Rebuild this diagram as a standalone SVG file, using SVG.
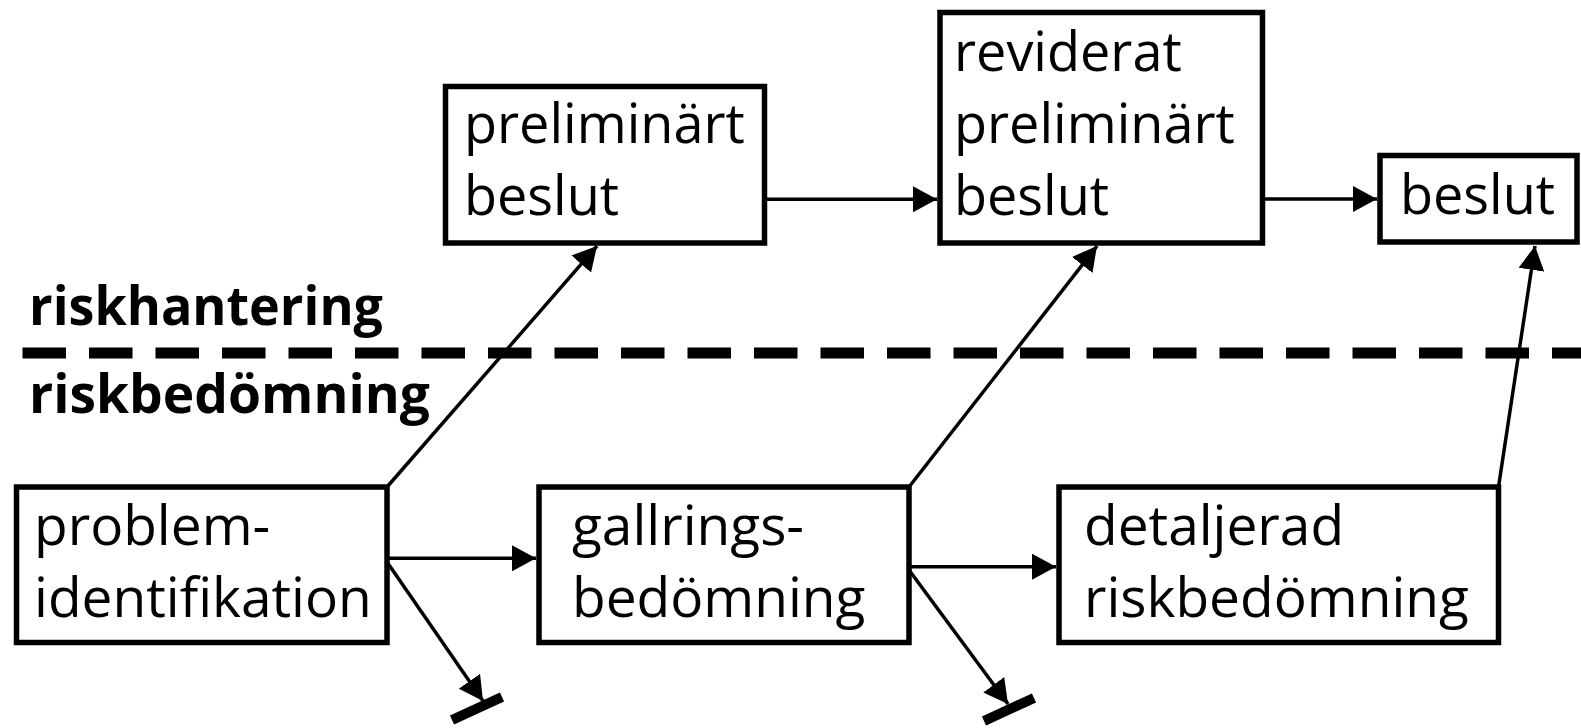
<svg xmlns="http://www.w3.org/2000/svg" width="1581" height="728" viewBox="0 0 1581 728">
<style>
.box{fill:#fff;stroke:#000;stroke-width:5.5}
.t{font-family:"Open Sans","Liberation Sans",sans-serif;font-size:55px;fill:#000}
.tt{font-family:"Open Sans","Liberation Sans",sans-serif;font-size:54px;fill:#000}
.lab{font-family:"Open Sans","Liberation Sans",sans-serif;font-size:53px;font-weight:bold;fill:#000}
.c{stroke:#000;stroke-width:3.5;fill:none}
.bar{stroke:#000;stroke-width:10;fill:none}
.dash{stroke:#000;stroke-width:11;stroke-dasharray:43.5 23;fill:none}
</style>
<defs>
<marker id="ah" viewBox="0 0 24 26" refX="24" refY="13" markerWidth="24" markerHeight="26" markerUnits="userSpaceOnUse" orient="auto">
<path d="M0,0 L24,13 L0,26 z" fill="#000"/>
</marker>
</defs>
<rect width="1581" height="728" fill="#fff"/>
<g id="divider">
<line class="dash" x1="22.5" y1="353" x2="1581" y2="353"/>
<text class="lab" x="29" y="325" textLength="354" lengthAdjust="spacingAndGlyphs">riskhantering</text>
<text class="lab" x="29" y="413" textLength="401" lengthAdjust="spacingAndGlyphs">riskbedömning</text>
</g>
<g id="connectors">
<line class="c" x1="764.5" y1="199.3" x2="937" y2="199.3" marker-end="url(#ah)"/>
<line class="c" x1="1262.5" y1="199" x2="1377" y2="199" marker-end="url(#ah)"/>
<line class="c" x1="387" y1="558.3" x2="536" y2="558.3" marker-end="url(#ah)"/>
<line class="c" x1="909" y1="566.7" x2="1056" y2="566.7" marker-end="url(#ah)"/>
<line class="c" x1="387" y1="487" x2="597" y2="246" marker-end="url(#ah)"/>
<line class="c" x1="909" y1="487" x2="1097" y2="246" marker-end="url(#ah)"/>
<line class="c" x1="1498.5" y1="487" x2="1535" y2="246" marker-end="url(#ah)"/>
<line class="c" x1="387" y1="562" x2="483" y2="701" marker-end="url(#ah)"/>
<line class="bar" x1="452" y1="720" x2="502" y2="697"/>
<line class="c" x1="909" y1="570" x2="1008" y2="704" marker-end="url(#ah)"/>
<line class="bar" x1="984" y1="721" x2="1034" y2="698"/>
</g>
<g id="node-problem">
<rect class="box" x="16.5" y="487" width="370.5" height="155.5"/>
<text class="t" x="34" y="545">problem-</text>
<text class="t" x="34" y="617">identifikation</text>
</g>
<g id="node-gallrings">
<rect class="box" x="539" y="487" width="370" height="155.5"/>
<text class="t" x="572" y="545">gallrings-</text>
<text class="t" x="572" y="617">bedömning</text>
</g>
<g id="node-detaljerad">
<rect class="box" x="1059" y="487" width="439.5" height="155.5"/>
<text class="t" x="1084" y="545">detaljerad</text>
<text class="t" x="1084" y="617">riskbedömning</text>
</g>
<g id="node-preliminart">
<rect class="box" x="445.5" y="86.5" width="319" height="156.5"/>
<text class="tt" x="464" y="143">preliminärt</text>
<text class="tt" x="464" y="215">beslut</text>
</g>
<g id="node-reviderat">
<rect class="box" x="940" y="12.5" width="322.5" height="230.5"/>
<text class="tt" x="954" y="71">reviderat</text>
<text class="tt" x="954" y="143">preliminärt</text>
<text class="tt" x="954" y="215">beslut</text>
</g>
<g id="node-beslut">
<rect class="box" x="1380" y="155.5" width="197" height="86.5"/>
<text class="tt" x="1400" y="214">beslut</text>
</g>
</svg>
